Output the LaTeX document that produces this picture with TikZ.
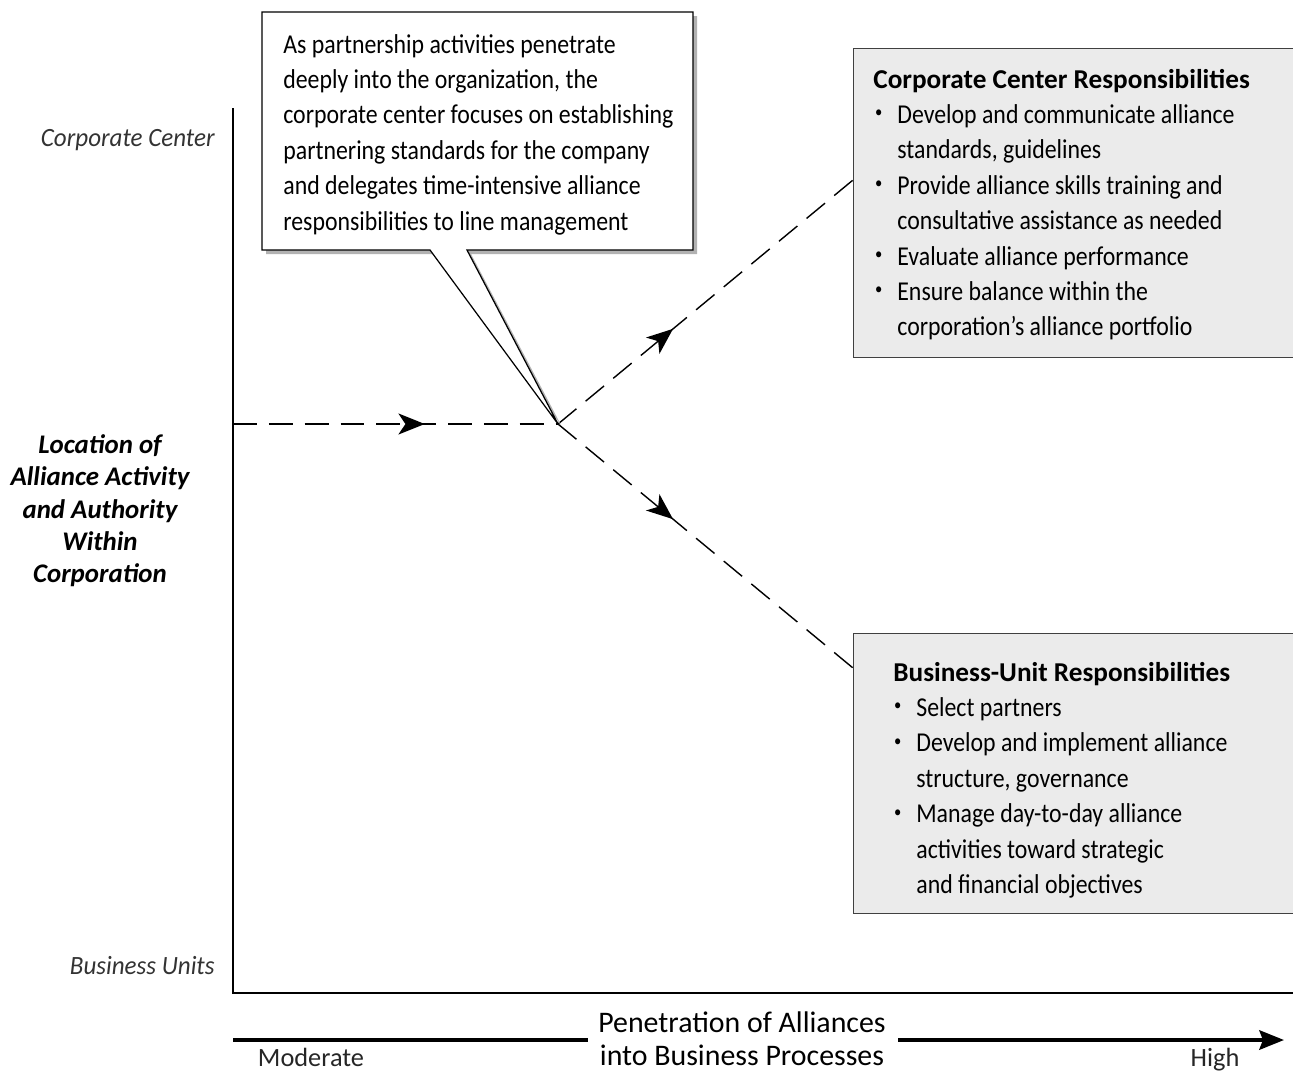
\documentclass[tikz,border=0pt]{standalone}
\usepackage{fontspec}
\setmainfont{Carlito}
\newfontfamily\narrowfont{Carlito}[FakeStretch=0.875]
\newfontfamily\semifont{Carlito}[FakeStretch=0.95]
\usetikzlibrary{arrows.meta,decorations.markings}
\newcommand{\smbullet}{\makebox[0pt][l]{\raisebox{0.42ex}{\fontsize{9.5}{9.5}\selectfont\textbullet}}}
\begin{document}
\begin{tikzpicture}[x=0.02cm,y=-0.02cm,
  body/.style={inner sep=0pt, anchor=base west, font=\fontsize{15.5}{18}\narrowfont},
  ttl/.style={inner sep=0pt, anchor=base west, font=\fontsize{15.5}{18}\selectfont\bfseries},
  axislbl/.style={inner sep=0pt, anchor=base east, font=\fontsize{15}{18}\semifont\itshape, text=black!80},
  ylbl/.style={inner sep=0pt, anchor=base, font=\fontsize{15.3}{18}\selectfont\bfseries\itshape},
  xlbl/.style={inner sep=0pt, anchor=base, font=\fontsize{17}{18}\selectfont},
  endlbl/.style={inner sep=0pt, anchor=base, font=\fontsize{15}{18}\selectfont, text=black!85},
  panel/.style={draw=black!75, line width=0.7pt, fill=black!8, inner sep=0pt, anchor=north west},
  flow/.style={line width=0.8pt, dash pattern=on 13.6pt off 6.8pt},
  midarrow/.style={postaction={decorate}, decoration={markings,
     mark=at position #1 with {\arrow{Stealth[length=15pt,width=12pt,inset=4pt]}}}},
  axis/.style={line width=0.8pt}]
\useasboundingbox (0,0) rectangle (1293,1072);

% axes
\coordinate (ytop) at (233,108);
\coordinate (orig) at (233,993);
\coordinate (xend) at (1293,993);
\draw[axis] (ytop) -- (orig) -- (xend);

% axis end labels
\node[axislbl] (lcc) at (215,146) {Corporate Center};
\node[axislbl] (lbu) at (215,974) {Business Units};

% y label
\node[ylbl] (yl1) at (100,453) {Location of};
\node[ylbl] (yl2) at (100,485) {Alliance Activity};
\node[ylbl] (yl3) at (100,518) {and Authority};
\node[ylbl] (yl4) at (100,550) {Within};
\node[ylbl] (yl5) at (100,582) {Corporation};

% x label and arrow
\node[xlbl] (xl1) at (742,1032) {Penetration of Alliances};
\node[xlbl] (xl2) at (742,1065) {into Business Processes};
\coordinate (xa0) at (233,1040);
\coordinate (xa1) at (588,1040);
\coordinate (xa2) at (898,1040);
\coordinate (xa3) at (1284,1040);
\draw[line width=2.2pt] (xa0) -- (xa1);
\draw[line width=2.2pt, -{Stealth[length=14pt,width=11pt,inset=2pt]}] (xa2) -- (xa3);
\node[endlbl] (mod) at (311,1066) {Moderate};
\node[endlbl] (high) at (1215,1066) {High};

% panels
\node[panel, minimum width=8.9cm, minimum height=6.18cm] (ccbox) at (853,48) {};
\node[panel, minimum width=8.9cm, minimum height=5.6cm] (bubox) at (853,633) {};

% flow lines
\coordinate (start) at (233,424);
\coordinate (junc) at (558,424);
\coordinate (ccin) at (853,180);
\coordinate (buin) at (853,668);
\draw[flow, midarrow=0.59] (start) -- (junc);
\draw[flow, midarrow=0.39] (junc) -- (ccin);
\draw[flow, midarrow=0.39] (junc) -- (buin);

% callout
\fill[black!30] (266,16) -- (697,16) -- (697,254) -- (471,254) -- (561,425) -- (434,254) -- (266,254) -- cycle;
\draw[fill=white, line width=0.7pt] (262,12) -- (693,12) -- (693,250) -- (467,250) -- (junc) -- (430,250) -- (262,250) -- cycle;
\foreach \t [count=\i from 0] in {As partnership activities penetrate,
  {deeply into the organization, the},
  corporate center focuses on establishing,
  partnering standards for the company,
  and delegates time-intensive alliance,
  responsibilities to line management}
  \node[body] (co\i) at (283,{53+35.4*\i}) {\t};

% corporate center panel text
\node[ttl] (cct) at (873,88) {Corporate Center Responsibilities};
\foreach \t/\b [count=\i from 1] in {Develop and communicate alliance/1, {standards, guidelines}/0,
  Provide alliance skills training and/1, consultative assistance as needed/0,
  Evaluate alliance performance/1, Ensure balance within the/1,
  corporation’s alliance portfolio/0}
{
  \node[body] (cc\i) at (897,{88+35.4*\i}) {\t};
  \ifnum\b=1 \node[body] (ccb\i) at (874,{88+35.4*\i}) {\smbullet}; \fi
}

% business unit panel text
\node[ttl] (but) at (893,681) {Business-Unit Responsibilities};
\foreach \t/\b [count=\i from 1] in {Select partners/1, Develop and implement alliance/1,
  {structure, governance}/0, Manage day-to-day alliance/1,
  activities toward strategic/0, and financial objectives/0}
{
  \node[body] (bu\i) at (916,{681+35.4*\i}) {\t};
  \ifnum\b=1 \node[body] (bub\i) at (893,{681+35.4*\i}) {\smbullet}; \fi
}
\end{tikzpicture}
\end{document}
